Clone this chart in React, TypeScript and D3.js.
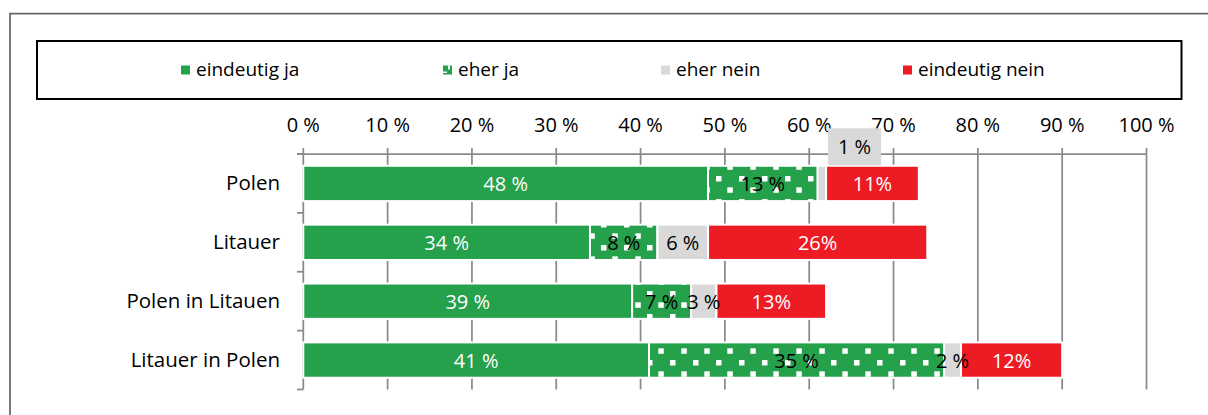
import React from 'react'
import * as d3 from 'd3'

const categories = ['Polen', 'Litauer', 'Polen in Litauen', 'Litauer in Polen']
const seriesNames = ['eindeutig ja', 'eher ja', 'eher nein', 'eindeutig nein']
const eindeutigJa = [48, 34, 39, 41]
const eherJa = [13, 8, 7, 35]
const eherNein = [1, 6, 3, 2]
const eindeutigNein = [11, 26, 13, 12]
const tickValues = [0, 10, 20, 30, 40, 50, 60, 70, 80, 90, 100]

const WIDTH = 1208, HEIGHT = 415
const FONT = "'Open Sans', sans-serif"
const GREEN = '#25a04b', RED = '#ed1c24', GREY = '#d9d9d9', AXIS = '#8a8a8a'

const fills = [GREEN, 'url(#dots)', GREY, RED]
const labelColors = ['#fff', '#000', '#000', '#fff']
// the red series is labelled without the blank before %
const fmt = (key: number, v: number) => key === 3 ? `${v}%` : `${v} %`

const rows = categories.map((c, i) => ({
    cat: c,
    s0: eindeutigJa[i],
    s1: eherJa[i],
    s2: eherNein[i],
    s3: eindeutigNein[i]
}))

const stack = d3.stack<any>().keys(['s0', 's1', 's2', 's3'])
const layers = stack(rows)

// legend square positions (excel lays them out by text width)
const legendX = [181, 443, 661, 903]

const Defs = () => (
    <defs>
        <pattern id="dots" patternUnits="userSpaceOnUse" width={23} height={23}>
            <rect width={23} height={23} fill={GREEN} />
            <rect x={3} y={15} width={5.5} height={5.5} fill="#fff" />
            <rect x={14.3} y={3.3} width={5.5} height={5.5} fill="#fff" />
        </pattern>
    </defs>
)

const Legend = () => (
    <g>
        <rect x={37} y={41} width={1144.5} height={58} fill="none" stroke="#000" strokeWidth={2} />
        {seriesNames.map((name, i) => (
            <g key={name} transform={`translate(${legendX[i]},65.5)`}>
                {i === 1 ? (
                    <g>
                        <rect width={9} height={9} fill={GREEN} />
                        <rect x={5} y={0} width={2} height={4} fill="#fff" />
                        <rect x={0} y={6} width={4} height={1.5} fill="#fff" />
                    </g>
                ) : (
                    <rect width={9} height={9} fill={fills[i]} />
                )}
                <text x={15} y={10.5} fontSize={19} fontFamily={FONT} fill="#000">{name}</text>
            </g>
        ))}
    </g>
)

const Chart = () => {
    const x = d3.scaleLinear().domain([0, 100]).range([303.3, 1146.5])
    const y = d3.scaleBand().domain(categories).range([154, 389.5]).paddingInner(0.4).paddingOuter(0.2)
    const top = 154, bottom = 389.5
    const bw = y.bandwidth()
    const bounds = categories.map(c => (y(c) as number) - y.step() * 0.2).concat([bottom])

    return (
        <g fontFamily={FONT}>
            {/* gridlines + ticks */}
            {tickValues.map(t => (
                <g key={t}>
                    <line x1={x(t)} x2={x(t)} y1={148} y2={bottom} stroke={AXIS} strokeWidth={1.75} />
                    <text x={x(t)} y={131.5} textAnchor="middle" fontSize={20}>{`${t} %`}</text>
                </g>
            ))}
            <line x1={297} x2={x(100)} y1={top} y2={top} stroke={AXIS} strokeWidth={1.75} />
            {bounds.map((b, i) => (
                <line key={i} x1={297} x2={x(0)} y1={b} y2={b} stroke={AXIS} strokeWidth={1.75} />
            ))}
            {categories.map(c => (
                <text key={c} x={280} y={(y(c) as number) + bw / 2 + 7} textAnchor="end" fontSize={20.5}>{c}</text>
            ))}

            {/* bars */}
            {layers.map((layer, k) => (
                <g key={layer.key}>
                    {layer.map((d, i) => (
                        <rect key={i}
                            x={x(d[0])} y={y(categories[i])}
                            width={x(d[1]) - x(d[0])} height={bw}
                            fill={fills[k]} stroke="#fff" strokeWidth={2} />
                    ))}
                </g>
            ))}

            {/* labels */}
            {layers.map((layer, k) => (
                <g key={'l' + layer.key}>
                    {layer.map((d, i) => {
                        const v = d[1] - d[0]
                        const by = y(categories[i]) as number
                        if (v < 2) {
                            // small value gets a callout box above the bar
                            const bx = x(d[1]) + 2
                            return (
                                <g key={i}>
                                    <rect x={bx} y={by - 37.5} width={53} height={37} fill={GREY} />
                                    <text x={bx + 26.5} y={by - 11.5} textAnchor="middle" fontSize={20}>{fmt(k, v)}</text>
                                </g>
                            )
                        }
                        return (
                            <text key={i} x={(x(d[0]) + x(d[1])) / 2} y={by + bw / 2 + 7.5}
                                textAnchor="middle" fontSize={20} fill={labelColors[k]}>{fmt(k, v)}</text>
                        )
                    })}
                </g>
            ))}
        </g>
    )
}

export default function App() {
    return (
        <svg width={WIDTH} height={HEIGHT} style={{ position: 'absolute', left: 0, top: 0, background: '#fff' }}>
            <Defs />
            {/* outer chart frame, only top and left edges are in view */}
            <path d={`M10,${HEIGHT} V13.7 H${WIDTH}`} fill="none" stroke="#666" strokeWidth={1.75} />
            <Legend />
            <Chart />
        </svg>
    )
}
